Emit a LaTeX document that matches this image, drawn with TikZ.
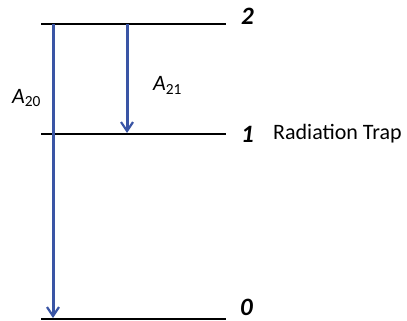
\documentclass[tikz,border=0pt]{standalone}
\usepackage{fontspec}
\setmainfont{Carlito}
\usetikzlibrary{arrows.meta}
\definecolor{arrowblue}{HTML}{3A55A5}
\begin{document}
\begin{tikzpicture}[x=1pt,y=-1pt,
  level/.style={line width=2.3pt,black},
  trans/.style={line width=3pt,arrowblue,-{Straight Barb[length=9pt,width=12pt,line width=2.2pt]}},
  lvlnum/.style={font=\fontsize{25}{28}\selectfont\bfseries\itshape,anchor=base west,inner sep=0pt},
  lbl/.style={font=\fontsize{22}{24}\selectfont,anchor=base west,inner sep=0pt}]
\useasboundingbox (0,0) rectangle (407,321);
\coordinate (l2a) at (41,24); \coordinate (l2b) at (226,24);
\coordinate (l1a) at (41,134); \coordinate (l1b) at (226,134);
\coordinate (l0a) at (41,319); \coordinate (l0b) at (226,319);
\draw[level] (l2a) -- (l2b);
\draw[level] (l1a) -- (l1b);
\draw[level] (l0a) -- (l0b);
\node[lvlnum] (n2) at (241,25) {2};
\node[lvlnum] (n1) at (241,142) {1};
\node[lvlnum] (n0) at (240,315.5) {0};
\node[font=\fontsize{22}{24}\selectfont,anchor=base west,inner sep=0pt] (trap) at (273,139) {Radiation Trap};
\coordinate (a20s) at (53,24); \coordinate (a20e) at (53,318);
\coordinate (a21s) at (127,24); \coordinate (a21e) at (127,133);
\draw[trans] (a20s) -- (a20e);
\draw[trans] (a21s) -- (a21e);
\node[lbl] (A20) at (12,103) {$\mathit{A}$\textsubscript{20}};
\node[lbl] (A21) at (153,91) {$\mathit{A}$\textsubscript{21}};
\end{tikzpicture}
\end{document}
